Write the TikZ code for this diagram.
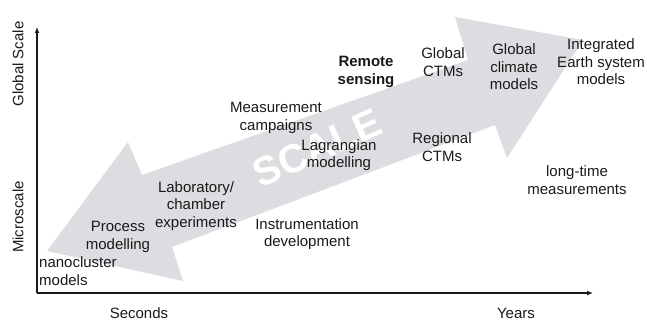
\documentclass[tikz,border=0pt]{standalone}
\usepackage{fontspec}
\setmainfont{Liberation Sans}
\usepackage{tikz}
\usetikzlibrary{arrows.meta}
\definecolor{scalegray}{RGB}{220,221,225}
\definecolor{inktext}{RGB}{25,25,25}

\begin{document}
\begin{tikzpicture}[x=1pt, y=-1pt,
    every node/.style={align=center, inner sep=0pt, text=inktext, font=\fontsize{15}{17.5}\selectfont},
    axisline/.style={line width=1.2pt, draw=inktext, -{Latex[length=6pt,width=5pt]}}]
  \useasboundingbox (0,0) rectangle (647,321);

  % Freccia della scala
  \fill[scalegray] (47,251) -- (128,142) -- (142,175) -- (468,60) -- (455,17) -- (583,40)
    -- (507,158) -- (495,125) -- (172,247) -- (183,281) -- cycle;
  \node (scala) at (317,148) [rotate=24, text=white, font=\bfseries\fontsize{40}{40}\selectfont] {SCALE};

  % Assi
  \coordinate (O) at (37,293);
  \coordinate (ytop) at (37,27);
  \coordinate (xend) at (593,293);
  \draw[axisline] (O) -- (ytop);
  \draw[axisline] (O) -- (xend);

  % Etichette degli assi
  \node (global) at (18,64) [rotate=90] {Global Scale};
  \node (micro) at (18,217) [rotate=90] {Microscale};
  \node (seconds) at (139,318) [anchor=base] {Seconds};
  \node (years) at (516,318) [anchor=base] {Years};

  % Scala piccola
  \node (nano) at (39,271) [anchor=west, align=left] {nanocluster\\models};
  \node (process) at (118,237) {Process\\modelling};
  \node (lab) at (196,206) {Laboratory/\\chamber\\experiments};
  \node (instr) at (307,234) {Instrumentation\\development};
  \node (campaign) at (276,118) {Measurement\\campaigns};
  \node (lagrange) at (339,155) {Lagrangian\\modelling};

  % Scala grande
  \node (remote) at (366,72) [font=\bfseries\fontsize{15}{17.5}\selectfont] {Remote\\sensing};
  \node (gctm) at (443,62) {Global\\CTMs};
  \node (rctm) at (442,147) {Regional\\CTMs};
  \node (climate) at (514,67) {Global\\climate\\models};
  \node (earth) at (601,62) {Integrated\\Earth system\\models};
  \node (longtime) at (577,180) {long-time\\measurements};
\end{tikzpicture}
\end{document}
